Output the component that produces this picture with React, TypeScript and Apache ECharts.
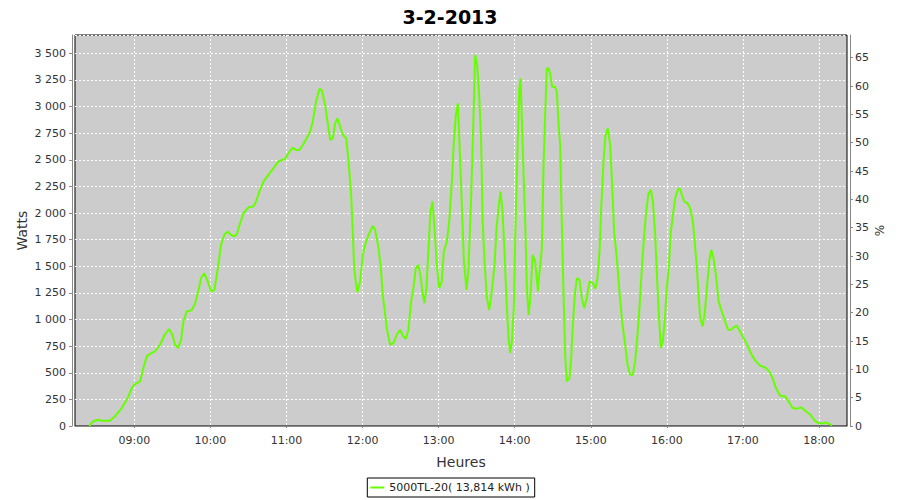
import React, { useEffect, useRef } from "react";
import * as echarts from "echarts";

// time of day in decimal hours
const hours: number[] = [
  8.41, 8.418, 8.46, 8.527, 8.57, 8.68, 8.746, 8.834, 8.913, 8.966,
  9.0, 9.075, 9.119, 9.163, 9.21, 9.27, 9.338, 9.4, 9.456, 9.5,
  9.535, 9.579, 9.614, 9.645, 9.689, 9.755, 9.8, 9.85, 9.877, 9.92,
  9.965, 10.01, 10.053, 10.097, 10.14, 10.185, 10.23, 10.258, 10.31, 10.346,
  10.39, 10.434, 10.5, 10.565, 10.6, 10.644, 10.697, 10.762, 10.828, 10.894,
  10.937, 10.98, 11.025, 11.08, 11.126, 11.17, 11.214, 11.266, 11.31, 11.345,
  11.389, 11.433, 11.464, 11.508, 11.539, 11.574, 11.609, 11.64, 11.67, 11.707,
  11.742, 11.786, 11.816, 11.85, 11.873, 11.89, 11.907, 11.932, 11.968, 12.003,
  12.034, 12.078, 12.135, 12.165, 12.21, 12.24, 12.265, 12.29, 12.318, 12.362,
  12.406, 12.45, 12.494, 12.537, 12.568, 12.603, 12.638, 12.669, 12.7, 12.735,
  12.766, 12.792, 12.814, 12.84, 12.867, 12.893, 12.92, 12.946, 12.976, 13.007,
  13.042, 13.068, 13.108, 13.139, 13.174, 13.2, 13.226, 13.253, 13.27, 13.297,
  13.332, 13.367, 13.393, 13.428, 13.454, 13.48, 13.507, 13.533, 13.559, 13.577,
  13.603, 13.634, 13.664, 13.699, 13.735, 13.761, 13.787, 13.814, 13.84, 13.866,
  13.893, 13.919, 13.941, 13.963, 13.989, 14.007, 14.033, 14.06, 14.077, 14.095,
  14.117, 14.139, 14.16, 14.183, 14.209, 14.235, 14.27, 14.305, 14.32, 14.357,
  14.379, 14.4, 14.422, 14.444, 14.466, 14.492, 14.532, 14.553, 14.575, 14.597,
  14.619, 14.641, 14.663, 14.685, 14.72, 14.742, 14.764, 14.79, 14.817, 14.852,
  14.882, 14.913, 14.948, 14.983, 15.027, 15.058, 15.088, 15.115, 15.137, 15.167,
  15.193, 15.224, 15.255, 15.281, 15.307, 15.342, 15.377, 15.412, 15.452, 15.483,
  15.518, 15.553, 15.583, 15.614, 15.64, 15.671, 15.702, 15.728, 15.759, 15.79,
  15.816, 15.847, 15.869, 15.895, 15.921, 15.948, 15.974, 16.0, 16.027, 16.053,
  16.08, 16.11, 16.141, 16.167, 16.198, 16.228, 16.272, 16.307, 16.342, 16.37,
  16.395, 16.417, 16.438, 16.469, 16.496, 16.526, 16.557, 16.583, 16.614, 16.645,
  16.68, 16.715, 16.759, 16.803, 16.846, 16.877, 16.916, 16.951, 16.995, 17.039,
  17.083, 17.127, 17.17, 17.227, 17.293, 17.346, 17.39, 17.434, 17.491, 17.556,
  17.6, 17.653, 17.71, 17.767, 17.82, 17.886, 17.943, 17.995, 18.048, 18.092,
  18.136, 18.171,
];

// power in watts
const watts: number[] = [
  0, 12, 44, 59, 50, 50, 91, 169, 263, 356,
  388, 419, 544, 654, 679, 700, 763, 857, 910, 857,
  763, 732, 810, 982, 1076, 1088, 1154, 1295, 1388, 1435,
  1357, 1263, 1279, 1482, 1701, 1801, 1826, 1801, 1779, 1801,
  1904, 1998, 2054, 2061, 2108, 2201, 2295, 2358, 2420, 2483,
  2498, 2505, 2561, 2614, 2592, 2592, 2639, 2702, 2764, 2858,
  3046, 3165, 3155, 3014, 2858, 2686, 2702, 2842, 2889, 2811,
  2733, 2702, 2483, 2170, 1795, 1482, 1373, 1257, 1357, 1607,
  1701, 1795, 1879, 1842, 1670, 1482, 1232, 1091, 919, 763,
  779, 857, 904, 841, 819, 904, 1170, 1295, 1482, 1513,
  1388, 1232, 1154, 1295, 1670, 2014, 2108, 1857, 1513, 1295,
  1357, 1638, 1732, 1920, 2295, 2670, 2921, 3030, 2733, 2233,
  1545, 1279, 1482, 2170, 2796, 3483, 3390, 3108, 2670, 1951,
  1545, 1201, 1091, 1263, 1513, 1857, 2045, 2201, 2014, 1638,
  1170, 826, 685, 794, 1107, 1795, 2483, 3171, 3265, 2858,
  2358, 1889, 1295, 1044, 1232, 1607, 1545, 1263, 1400, 1670,
  2452, 2921, 3358, 3358, 3311, 3186, 3186, 3139, 2858, 2639,
  1920, 1263, 669, 419, 450, 638, 951, 1232, 1388, 1373,
  1201, 1107, 1201, 1357, 1341, 1288, 1388, 1638, 2045, 2483,
  2733, 2796, 2639, 2264, 1826, 1576, 1263, 982, 763, 575,
  482, 482, 607, 857, 1107, 1482, 1795, 2014, 2186, 2217,
  2108, 1795, 1420, 1044, 732, 794, 1013, 1295, 1513, 1826,
  1983, 2139, 2217, 2233, 2170, 2108, 2092, 2045, 1920, 1700,
  1482, 1232, 1013, 935, 1044, 1295, 1545, 1654, 1576, 1420,
  1170, 1091, 998, 904, 904, 926, 944, 904, 841, 788,
  716, 654, 607, 566, 550, 513, 450, 356, 285, 278,
  231, 169, 163, 175, 144, 106, 50, 25, 25, 34,
  19, 6,
];

const hourTicks: number[] = [9, 10, 11, 12, 13, 14, 15, 16, 17, 18];

const seriesName = "5000TL-20( 13,814 kWh )";
const titleText = "3-2-2013";

export default function App() {
  const ref = useRef<HTMLDivElement>(null);

  useEffect(() => {
    if (!ref.current) return;
    const chart = echarts.init(ref.current, null, { renderer: "svg" });
    const data = hours.map((h, i) => [h, watts[i]]);
    const fmtHour = (v: number) => {
      const h = Math.round(v);
      return (h < 10 ? "0" : "") + h + ":00";
    };
    const fmtWatts = (v: number) =>
      String(v).replace(/\B(?=(\d{3})+(?!\d))/g, " ");

    chart.setOption({
      animation: false,
      backgroundColor: "#ffffff",
      textStyle: { fontFamily: "DejaVu Sans" },
      title: {
        text: titleText,
        left: "center",
        top: 2,
        textStyle: {
          fontSize: 19,
          fontWeight: "bold",
          color: "#000",
          fontFamily: "DejaVu Sans",
        },
      },
      grid: {
        left: 75,
        right: 53,
        top: 35,
        bottom: 74,
        show: true,
        backgroundColor: "#cccccc",
        borderColor: "#000000",
        borderWidth: 1,
      },
      legend: {
        data: [seriesName],
        left: "center",
        bottom: 3,
        padding: [4, 5, 4, 3],
        borderColor: "#000",
        borderWidth: 1,
        borderRadius: 0,
        backgroundColor: "#fff",
        icon: "rect",
        itemWidth: 14,
        itemHeight: 2,
        textStyle: { fontSize: 11, color: "#222", fontFamily: "DejaVu Sans" },
      },
      xAxis: {
        type: "value",
        min: 8.22,
        max: 18.368,
        offset: 4,
        name: "Heures",
        nameLocation: "middle",
        nameGap: 25,
        nameMoveOverlap: false,
        nameTextStyle: { fontSize: 14, color: "#333" },
        axisLine: { show: true, lineStyle: { color: "#888", width: 1 } },
        axisTick: {
          show: true,
          length: 2,
          customValues: hourTicks,
          lineStyle: { color: "#888" },
        },
        axisLabel: {
          customValues: hourTicks,
          formatter: (v: number) => fmtHour(v),
          fontSize: 11,
          color: "#333",
          margin: 5,
        },
        splitLine: {
          show: true,
          lineStyle: { color: "#ffffff", type: [2, 2], width: 1 },
        },
      },
      yAxis: [
        {
          type: "value",
          min: 0,
          max: 3672,
          interval: 250,
          offset: 3,
          name: "Watts",
          nameLocation: "middle",
          nameGap: 43,
          nameMoveOverlap: false,
          nameRotate: 90,
          nameTextStyle: { fontSize: 14, color: "#333" },
          axisLine: { show: true, lineStyle: { color: "#888" } },
          axisTick: { show: true, length: 3, lineStyle: { color: "#888" } },
          axisLabel: {
            formatter: (v: number) => fmtWatts(v),
            fontSize: 11,
            color: "#333",
            margin: 6,
            showMaxLabel: false,
          },
          splitLine: {
            show: true,
            lineStyle: { color: "#ffffff", type: [2, 2], width: 1 },
          },
        },
        {
          type: "value",
          position: "right",
          min: 0,
          max: 69,
          interval: 5,
          offset: 3,
          name: "%",
          nameLocation: "middle",
          nameGap: 24,
          nameMoveOverlap: false,
          nameRotate: 90,
          nameTextStyle: { fontSize: 12, color: "#333" },
          axisLine: { show: true, lineStyle: { color: "#888" } },
          axisTick: { show: true, length: 3, lineStyle: { color: "#888" } },
          axisLabel: { fontSize: 11, color: "#333", margin: 5, showMaxLabel: false },
          splitLine: { show: false },
        },
      ],
      series: [
        {
          name: seriesName,
          type: "line",
          yAxisIndex: 0,
          data,
          showSymbol: false,
          symbol: "none",
          smooth: false,
          lineStyle: { color: "#66ff00", width: 2 },
          itemStyle: { color: "#66ff00" },
        },
      ],
    });
    return () => chart.dispose();
  }, []);

  return (
    <div
      ref={ref}
      style={{ position: "fixed", left: 0, top: 0, width: 900, height: 500 }}
    />
  );
}
